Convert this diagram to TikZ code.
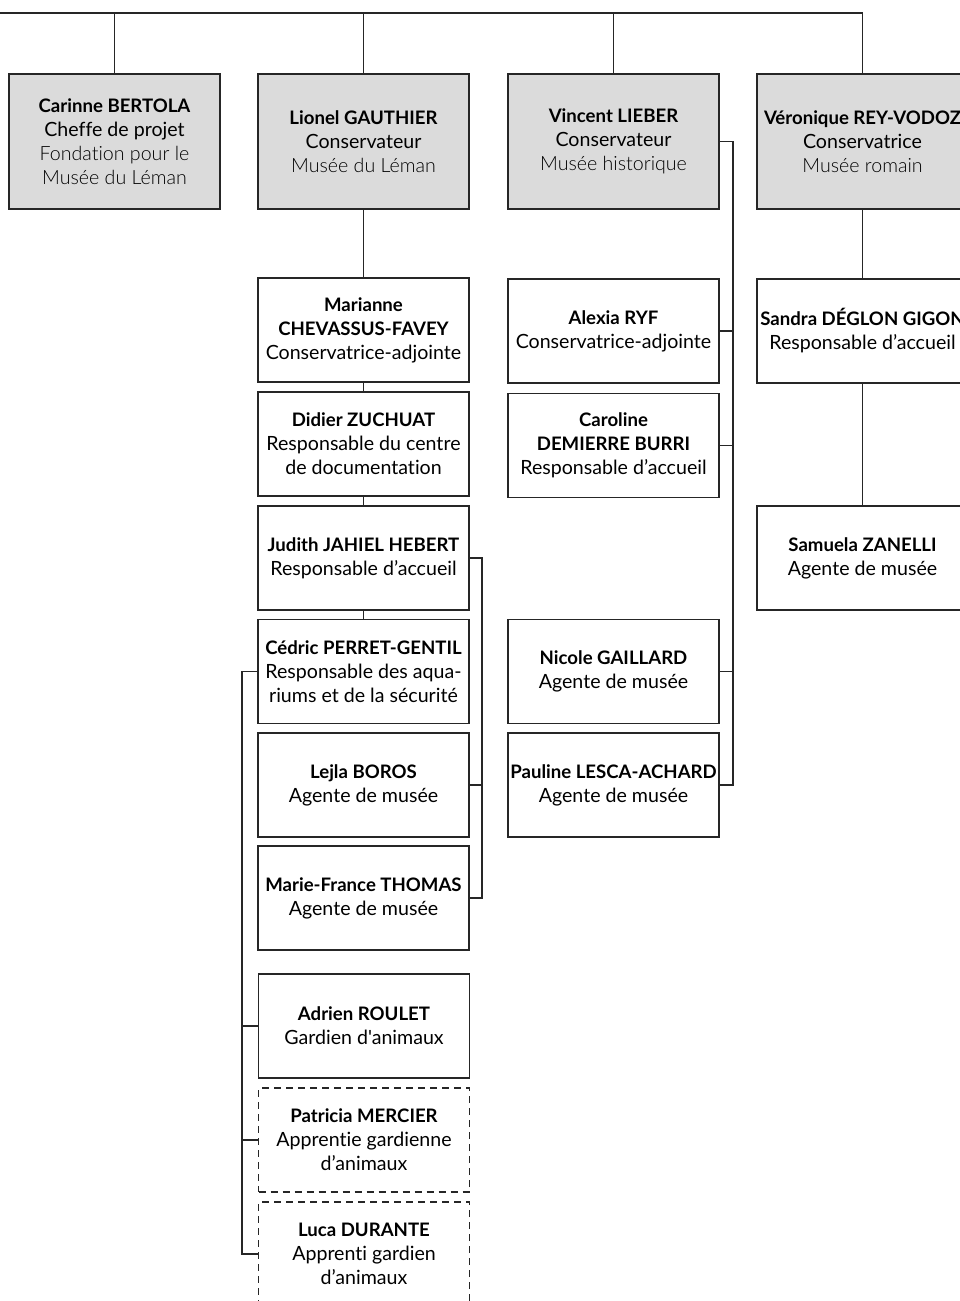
\documentclass[tikz,border=0pt]{standalone}
\usepackage{fontspec}
\setmainfont{Lato}[Ligatures={TeXOff,NoCommon}]
\newfontfamily\lightfont{Lato Light}[Ligatures={TeXOff,NoCommon}]
\newcommand{\nm}[1]{{\fontsize{18.6}{24}\selectfont\bfseries #1}}
\begin{document}
\begin{tikzpicture}[x=1pt,y=-1pt,
  conn/.style={draw=black!85,line width=1.2pt},
  box/.style={draw=black!85,line width=1.2pt,minimum width=211pt,minimum height=104pt,
    align=center,inner sep=0pt,font=\fontsize{19.6}{24}\selectfont},
  headbox/.style={box,fill=black!14,minimum height=135pt},
  dbox/.style={box,dash pattern=on 7pt off 5pt}]
\useasboundingbox (0,0) rectangle (960,1301);
\clip (0,0) rectangle (960,1301);
% top row
\node[headbox] (carinne) at (114.5,141.5) {\nm{Carinne BERTOLA}\\Cheffe de projet\\{\lightfont Fondation pour le}\\{\lightfont Musée du Léman}};
\node[headbox] (lionel) at (363.5,141.5) {\nm{Lionel GAUTHIER}\\Conservateur\\{\lightfont Musée du Léman}};
\node[headbox] (vincent) at (613.5,141.5) {\nm{Vincent LIEBER}\\Conservateur\\{\lightfont Musée historique}};
\node[headbox] (vero) at (862.5,141.5) {\nm{Véronique REY-VODOZ}\\Conservatrice\\{\lightfont Musée romain}};
% Lionel column
\node[box] (marianne) at (363.5,330) {\nm{Marianne}\\\nm{CHEVASSUS-FAVEY}\\Conservatrice-adjointe};
\node[box] (didier) at (363.5,444) {\nm{Didier ZUCHUAT}\\Responsable du centre\\de documentation};
\node[box] (judith) at (363.5,558) {\nm{Judith JAHIEL HEBERT}\\Responsable d’accueil};
\node[box] (cedric) at (363.5,671.5) {\nm{Cédric PERRET-GENTIL}\\Responsable des aqua-\\riums et de la sécurité};
\node[box] (lejla) at (363.5,785) {\nm{Lejla BOROS}\\Agente de musée};
\node[box] (marief) at (363.5,898) {\nm{Marie-France THOMAS}\\Agente de musée};
\node[box] (adrien) at (364,1026) {\nm{Adrien ROULET}\\Gardien d'animaux};
\node[dbox] (patricia) at (364,1140) {\nm{Patricia MERCIER}\\Apprentie gardienne\\d’animaux};
\node[dbox] (luca) at (364,1254) {\nm{Luca DURANTE}\\Apprenti gardien\\d’animaux};
% Vincent column
\node[box] (alexia) at (613.5,331) {\nm{Alexia RYF}\\Conservatrice-adjointe};
\node[box] (caroline) at (613.5,445.5) {\nm{Caroline}\\\nm{DEMIERRE BURRI}\\Responsable d’accueil};
\node[box] (nicole) at (613.5,671.5) {\nm{Nicole GAILLARD}\\Agente de musée};
\node[box] (pauline) at (613.5,785) {\nm{Pauline LESCA-ACHARD}\\Agente de musée};
% Veronique column
\node[box] (sandra) at (862.5,331) {\nm{Sandra DÉGLON GIGON}\\Responsable d’accueil};
\node[box] (samuela) at (862.5,558) {\nm{Samuela ZANELLI}\\Agente de musée};
% connectors top
\coordinate (topl) at (0,13);
\draw[conn] (topl) -| (vero.north);
\draw[conn] (carinne.north) -- (carinne.north |- topl);
\draw[conn] (lionel.north) -- (lionel.north |- topl);
\draw[conn] (vincent.north) -- (vincent.north |- topl);
% Lionel chain
\draw[conn] (lionel.south) -- (marianne.north);
\draw[conn] (marianne.south) -- (didier.north);
\draw[conn] (didier.south) -- (judith.north);
\draw[conn] (judith.south) -- (cedric.north);
% Judith bracket
\coordinate (jx) at (482,0);
\draw[conn] (judith.east) -- (judith.east -| jx) |- (marief.east);
\draw[conn] (lejla.east) -- (lejla.east -| jx);
% Cedric bracket
\coordinate (cx) at (242,0);
\draw[conn] (cedric.west) -- (cedric.west -| cx) |- (luca.west);
\draw[conn] (adrien.west) -- (adrien.west -| cx);
\draw[conn] (patricia.west) -- (patricia.west -| cx);
% Vincent bracket
\coordinate (vx) at (733,0);
\draw[conn] (vincent.east) -- (vincent.east -| vx) |- (pauline.east);
\draw[conn] (alexia.east) -- (alexia.east -| vx);
\draw[conn] (caroline.east) -- (caroline.east -| vx);
\draw[conn] (nicole.east) -- (nicole.east -| vx);
% Veronique chain
\draw[conn] (vero.south) -- (sandra.north);
\draw[conn] (sandra.south) -- (samuela.north);
\end{tikzpicture}
\end{document}
